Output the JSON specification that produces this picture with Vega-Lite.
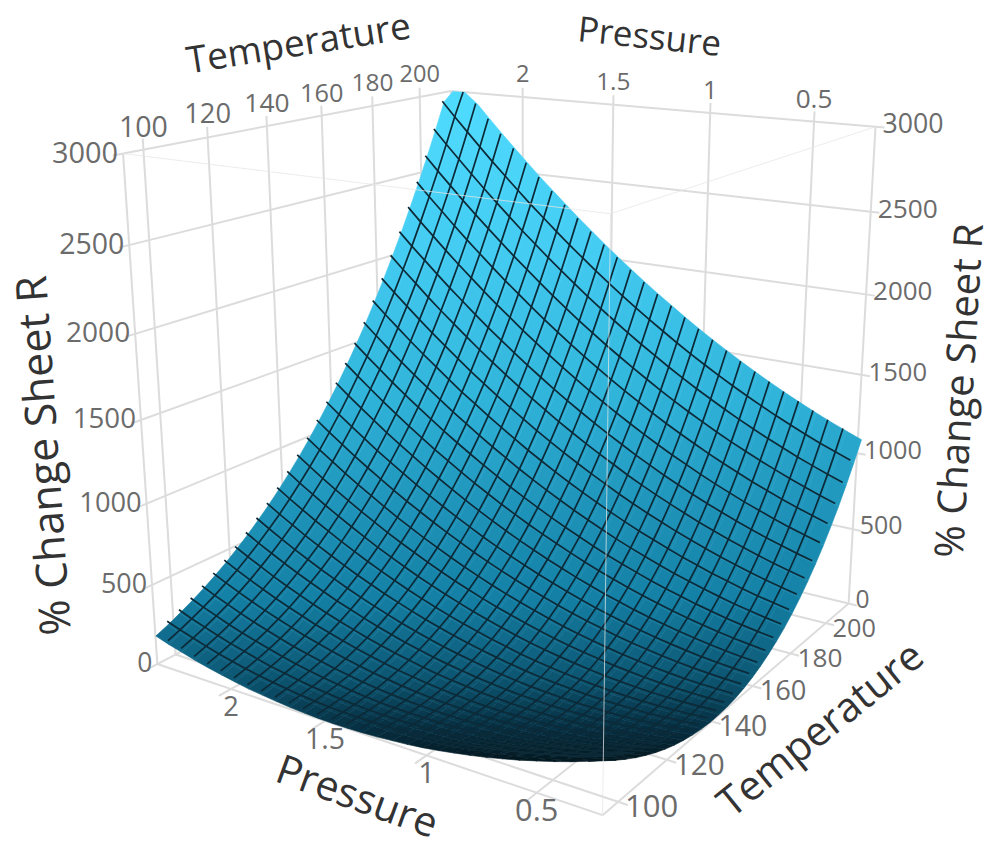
{"$schema":"https://vega.github.io/schema/vega-lite/v6.json","width":992,"height":846,"padding":0,"autosize":{"type":"fit","contains":"padding"},"background":"white","config":{"view":{"stroke":null},"text":{"font":"Open Sans"}},
"datasets":{
"grid":[
{"p":0.22,"t":94,"z":323},{"p":0.293,"t":94,"z":289},{"p":0.367,"t":94,"z":256},{"p":0.44,"t":94,"z":226},{"p":0.513,"t":94,"z":199},{"p":0.587,"t":94,"z":172},{"p":0.66,"t":94,"z":149},{"p":0.733,"t":94,"z":127},{"p":0.807,"t":94,"z":107},{"p":0.88,"t":94,"z":90},{"p":0.953,"t":94,"z":74},{"p":1.027,"t":94,"z":60},{"p":1.1,"t":94,"z":49},{"p":1.173,"t":94,"z":41},{"p":1.247,"t":94,"z":33},{"p":1.32,"t":94,"z":28},{"p":1.393,"t":94,"z":25},{"p":1.467,"t":94,"z":24},{"p":1.54,"t":94,"z":25},{"p":1.613,"t":94,"z":29},{"p":1.687,"t":94,"z":34},{"p":1.76,"t":94,"z":42},{"p":1.833,"t":94,"z":52},{"p":1.907,"t":94,"z":62},{"p":1.98,"t":94,"z":77},{"p":2.053,"t":94,"z":93},{"p":2.127,"t":94,"z":110},{"p":2.2,"t":94,"z":130},{"p":2.273,"t":94,"z":153},{"p":2.347,"t":94,"z":176},{"p":2.42,"t":94,"z":203},
{"p":0.22,"t":98,"z":279},{"p":0.293,"t":98,"z":247},{"p":0.367,"t":98,"z":217},{"p":0.44,"t":98,"z":190},{"p":0.513,"t":98,"z":165},{"p":0.587,"t":98,"z":141},{"p":0.66,"t":98,"z":120},{"p":0.733,"t":98,"z":100},{"p":0.807,"t":98,"z":83},{"p":0.88,"t":98,"z":69},{"p":0.953,"t":98,"z":55},{"p":1.027,"t":98,"z":44},{"p":1.1,"t":98,"z":35},{"p":1.173,"t":98,"z":29},{"p":1.247,"t":98,"z":24},{"p":1.32,"t":98,"z":22},{"p":1.393,"t":98,"z":21},{"p":1.467,"t":98,"z":23},{"p":1.54,"t":98,"z":26},{"p":1.613,"t":98,"z":32},{"p":1.687,"t":98,"z":40},{"p":1.76,"t":98,"z":51},{"p":1.833,"t":98,"z":63},{"p":1.907,"t":98,"z":76},{"p":1.98,"t":98,"z":93},{"p":2.053,"t":98,"z":111},{"p":2.127,"t":98,"z":131},{"p":2.2,"t":98,"z":154},{"p":2.273,"t":98,"z":179},{"p":2.347,"t":98,"z":205},{"p":2.42,"t":98,"z":234},
{"p":0.22,"t":102,"z":239},{"p":0.293,"t":102,"z":210},{"p":0.367,"t":102,"z":182},{"p":0.44,"t":102,"z":157},{"p":0.513,"t":102,"z":135},{"p":0.587,"t":102,"z":113},{"p":0.66,"t":102,"z":95},{"p":0.733,"t":102,"z":78},{"p":0.807,"t":102,"z":63},{"p":0.88,"t":102,"z":51},{"p":0.953,"t":102,"z":40},{"p":1.027,"t":102,"z":31},{"p":1.1,"t":102,"z":25},{"p":1.173,"t":102,"z":22},{"p":1.247,"t":102,"z":19},{"p":1.32,"t":102,"z":19},{"p":1.393,"t":102,"z":21},{"p":1.467,"t":102,"z":25},{"p":1.54,"t":102,"z":31},{"p":1.613,"t":102,"z":40},{"p":1.687,"t":102,"z":50},{"p":1.76,"t":102,"z":63},{"p":1.833,"t":102,"z":78},{"p":1.907,"t":102,"z":93},{"p":1.98,"t":102,"z":113},{"p":2.053,"t":102,"z":134},{"p":2.127,"t":102,"z":156},{"p":2.2,"t":102,"z":181},{"p":2.273,"t":102,"z":209},{"p":2.347,"t":102,"z":237},{"p":2.42,"t":102,"z":269},
{"p":0.22,"t":106,"z":201},{"p":0.293,"t":106,"z":174},{"p":0.367,"t":106,"z":149},{"p":0.44,"t":106,"z":127},{"p":0.513,"t":106,"z":107},{"p":0.587,"t":106,"z":88},{"p":0.66,"t":106,"z":72},{"p":0.733,"t":106,"z":57},{"p":0.807,"t":106,"z":46},{"p":0.88,"t":106,"z":36},{"p":0.953,"t":106,"z":27},{"p":1.027,"t":106,"z":21},{"p":1.1,"t":106,"z":17},{"p":1.173,"t":106,"z":17},{"p":1.247,"t":106,"z":17},{"p":1.32,"t":106,"z":19},{"p":1.393,"t":106,"z":23},{"p":1.467,"t":106,"z":30},{"p":1.54,"t":106,"z":39},{"p":1.613,"t":106,"z":50},{"p":1.687,"t":106,"z":63},{"p":1.76,"t":106,"z":78},{"p":1.833,"t":106,"z":95},{"p":1.907,"t":106,"z":114},{"p":1.98,"t":106,"z":136},{"p":2.053,"t":106,"z":159},{"p":2.127,"t":106,"z":184},{"p":2.2,"t":106,"z":211},{"p":2.273,"t":106,"z":242},{"p":2.347,"t":106,"z":273},{"p":2.42,"t":106,"z":307},
{"p":0.22,"t":110,"z":168},{"p":0.293,"t":110,"z":144},{"p":0.367,"t":110,"z":121},{"p":0.44,"t":110,"z":101},{"p":0.513,"t":110,"z":84},{"p":0.587,"t":110,"z":67},{"p":0.66,"t":110,"z":54},{"p":0.733,"t":110,"z":42},{"p":0.807,"t":110,"z":32},{"p":0.88,"t":110,"z":25},{"p":0.953,"t":110,"z":19},{"p":1.027,"t":110,"z":15},{"p":1.1,"t":110,"z":14},{"p":1.173,"t":110,"z":16},{"p":1.247,"t":110,"z":18},{"p":1.32,"t":110,"z":23},{"p":1.393,"t":110,"z":30},{"p":1.467,"t":110,"z":39},{"p":1.54,"t":110,"z":50},{"p":1.613,"t":110,"z":64},{"p":1.687,"t":110,"z":79},{"p":1.76,"t":110,"z":97},{"p":1.833,"t":110,"z":117},{"p":1.907,"t":110,"z":137},{"p":1.98,"t":110,"z":162},{"p":2.053,"t":110,"z":188},{"p":2.127,"t":110,"z":215},{"p":2.2,"t":110,"z":245},{"p":2.273,"t":110,"z":278},{"p":2.347,"t":110,"z":311},{"p":2.42,"t":110,"z":348},
{"p":0.22,"t":114,"z":137},{"p":0.293,"t":114,"z":115},{"p":0.367,"t":114,"z":95},{"p":0.44,"t":114,"z":78},{"p":0.513,"t":114,"z":63},{"p":0.587,"t":114,"z":49},{"p":0.66,"t":114,"z":38},{"p":0.733,"t":114,"z":29},{"p":0.807,"t":114,"z":22},{"p":0.88,"t":114,"z":17},{"p":0.953,"t":114,"z":13},{"p":1.027,"t":114,"z":13},{"p":1.1,"t":114,"z":14},{"p":1.173,"t":114,"z":18},{"p":1.247,"t":114,"z":23},{"p":1.32,"t":114,"z":30},{"p":1.393,"t":114,"z":40},{"p":1.467,"t":114,"z":52},{"p":1.54,"t":114,"z":65},{"p":1.613,"t":114,"z":81},{"p":1.687,"t":114,"z":100},{"p":1.76,"t":114,"z":120},{"p":1.833,"t":114,"z":142},{"p":1.907,"t":114,"z":165},{"p":1.98,"t":114,"z":193},{"p":2.053,"t":114,"z":221},{"p":2.127,"t":114,"z":251},{"p":2.2,"t":114,"z":283},{"p":2.273,"t":114,"z":318},{"p":2.347,"t":114,"z":355},{"p":2.42,"t":114,"z":394},
{"p":0.22,"t":118,"z":111},{"p":0.293,"t":118,"z":92},{"p":0.367,"t":118,"z":74},{"p":0.44,"t":118,"z":59},{"p":0.513,"t":118,"z":47},{"p":0.587,"t":118,"z":36},{"p":0.66,"t":118,"z":27},{"p":0.733,"t":118,"z":20},{"p":0.807,"t":118,"z":16},{"p":0.88,"t":118,"z":14},{"p":0.953,"t":118,"z":12},{"p":1.027,"t":118,"z":14},{"p":1.1,"t":118,"z":18},{"p":1.173,"t":118,"z":24},{"p":1.247,"t":118,"z":32},{"p":1.32,"t":118,"z":42},{"p":1.393,"t":118,"z":54},{"p":1.467,"t":118,"z":68},{"p":1.54,"t":118,"z":84},{"p":1.613,"t":118,"z":103},{"p":1.687,"t":118,"z":124},{"p":1.76,"t":118,"z":146},{"p":1.833,"t":118,"z":171},{"p":1.907,"t":118,"z":197},{"p":1.98,"t":118,"z":227},{"p":2.053,"t":118,"z":257},{"p":2.127,"t":118,"z":290},{"p":2.2,"t":118,"z":325},{"p":2.273,"t":118,"z":362},{"p":2.347,"t":118,"z":401},{"p":2.42,"t":118,"z":443},
{"p":0.22,"t":122,"z":89},{"p":0.293,"t":122,"z":72},{"p":0.367,"t":122,"z":58},{"p":0.44,"t":122,"z":45},{"p":0.513,"t":122,"z":35},{"p":0.587,"t":122,"z":26},{"p":0.66,"t":122,"z":21},{"p":0.733,"t":122,"z":16},{"p":0.807,"t":122,"z":14},{"p":0.88,"t":122,"z":14},{"p":0.953,"t":122,"z":16},{"p":1.027,"t":122,"z":20},{"p":1.1,"t":122,"z":26},{"p":1.173,"t":122,"z":36},{"p":1.247,"t":122,"z":46},{"p":1.32,"t":122,"z":58},{"p":1.393,"t":122,"z":72},{"p":1.467,"t":122,"z":90},{"p":1.54,"t":122,"z":108},{"p":1.613,"t":122,"z":129},{"p":1.687,"t":122,"z":152},{"p":1.76,"t":122,"z":178},{"p":1.833,"t":122,"z":205},{"p":1.907,"t":122,"z":233},{"p":1.98,"t":122,"z":265},{"p":2.053,"t":122,"z":299},{"p":2.127,"t":122,"z":334},{"p":2.2,"t":122,"z":371},{"p":2.273,"t":122,"z":412},{"p":2.347,"t":122,"z":453},{"p":2.42,"t":122,"z":497},
{"p":0.22,"t":126,"z":71},{"p":0.293,"t":126,"z":57},{"p":0.367,"t":126,"z":45},{"p":0.44,"t":126,"z":34},{"p":0.513,"t":126,"z":27},{"p":0.587,"t":126,"z":21},{"p":0.66,"t":126,"z":18},{"p":0.733,"t":126,"z":16},{"p":0.807,"t":126,"z":16},{"p":0.88,"t":126,"z":19},{"p":0.953,"t":126,"z":23},{"p":1.027,"t":126,"z":30},{"p":1.1,"t":126,"z":39},{"p":1.173,"t":126,"z":50},{"p":1.247,"t":126,"z":63},{"p":1.32,"t":126,"z":78},{"p":1.393,"t":126,"z":95},{"p":1.467,"t":126,"z":115},{"p":1.54,"t":126,"z":135},{"p":1.613,"t":126,"z":159},{"p":1.687,"t":126,"z":185},{"p":1.76,"t":126,"z":213},{"p":1.833,"t":126,"z":243},{"p":1.907,"t":126,"z":273},{"p":1.98,"t":126,"z":308},{"p":2.053,"t":126,"z":344},{"p":2.127,"t":126,"z":382},{"p":2.2,"t":126,"z":422},{"p":2.273,"t":126,"z":464},{"p":2.347,"t":126,"z":508},{"p":2.42,"t":126,"z":555},
{"p":0.22,"t":130,"z":57},{"p":0.293,"t":130,"z":45},{"p":0.367,"t":130,"z":36},{"p":0.44,"t":130,"z":28},{"p":0.513,"t":130,"z":23},{"p":0.587,"t":130,"z":20},{"p":0.66,"t":130,"z":19},{"p":0.733,"t":130,"z":19},{"p":0.807,"t":130,"z":23},{"p":0.88,"t":130,"z":28},{"p":0.953,"t":130,"z":34},{"p":1.027,"t":130,"z":44},{"p":1.1,"t":130,"z":55},{"p":1.173,"t":130,"z":69},{"p":1.247,"t":130,"z":85},{"p":1.32,"t":130,"z":102},{"p":1.393,"t":130,"z":121},{"p":1.467,"t":130,"z":144},{"p":1.54,"t":130,"z":167},{"p":1.613,"t":130,"z":193},{"p":1.687,"t":130,"z":222},{"p":1.76,"t":130,"z":252},{"p":1.833,"t":130,"z":284},{"p":1.907,"t":130,"z":318},{"p":1.98,"t":130,"z":355},{"p":2.053,"t":130,"z":393},{"p":2.127,"t":130,"z":434},{"p":2.2,"t":130,"z":476},{"p":2.273,"t":130,"z":521},{"p":2.347,"t":130,"z":568},{"p":2.42,"t":130,"z":617},
{"p":0.22,"t":134,"z":48},{"p":0.293,"t":134,"z":39},{"p":0.367,"t":134,"z":32},{"p":0.44,"t":134,"z":26},{"p":0.513,"t":134,"z":24},{"p":0.587,"t":134,"z":23},{"p":0.66,"t":134,"z":25},{"p":0.733,"t":134,"z":28},{"p":0.807,"t":134,"z":34},{"p":0.88,"t":134,"z":41},{"p":0.953,"t":134,"z":50},{"p":1.027,"t":134,"z":62},{"p":1.1,"t":134,"z":76},{"p":1.173,"t":134,"z":93},{"p":1.247,"t":134,"z":111},{"p":1.32,"t":134,"z":130},{"p":1.393,"t":134,"z":152},{"p":1.467,"t":134,"z":177},{"p":1.54,"t":134,"z":203},{"p":1.613,"t":134,"z":232},{"p":1.687,"t":134,"z":263},{"p":1.76,"t":134,"z":295},{"p":1.833,"t":134,"z":330},{"p":1.907,"t":134,"z":366},{"p":1.98,"t":134,"z":406},{"p":2.053,"t":134,"z":447},{"p":2.127,"t":134,"z":490},{"p":2.2,"t":134,"z":534},{"p":2.273,"t":134,"z":582},{"p":2.347,"t":134,"z":631},{"p":2.42,"t":134,"z":683},
{"p":0.22,"t":138,"z":43},{"p":0.293,"t":138,"z":36},{"p":0.367,"t":138,"z":32},{"p":0.44,"t":138,"z":29},{"p":0.513,"t":138,"z":29},{"p":0.587,"t":138,"z":31},{"p":0.66,"t":138,"z":35},{"p":0.733,"t":138,"z":41},{"p":0.807,"t":138,"z":49},{"p":0.88,"t":138,"z":59},{"p":0.953,"t":138,"z":71},{"p":1.027,"t":138,"z":85},{"p":1.1,"t":138,"z":101},{"p":1.173,"t":138,"z":121},{"p":1.247,"t":138,"z":141},{"p":1.32,"t":138,"z":164},{"p":1.393,"t":138,"z":188},{"p":1.467,"t":138,"z":215},{"p":1.54,"t":138,"z":244},{"p":1.613,"t":138,"z":275},{"p":1.687,"t":138,"z":308},{"p":1.76,"t":138,"z":344},{"p":1.833,"t":138,"z":381},{"p":1.907,"t":138,"z":420},{"p":1.98,"t":138,"z":462},{"p":2.053,"t":138,"z":505},{"p":2.127,"t":138,"z":551},{"p":2.2,"t":138,"z":598},{"p":2.273,"t":138,"z":648},{"p":2.347,"t":138,"z":700},{"p":2.42,"t":138,"z":754},
{"p":0.22,"t":142,"z":44},{"p":0.293,"t":142,"z":40},{"p":0.367,"t":142,"z":38},{"p":0.44,"t":142,"z":38},{"p":0.513,"t":142,"z":40},{"p":0.587,"t":142,"z":44},{"p":0.66,"t":142,"z":51},{"p":0.733,"t":142,"z":59},{"p":0.807,"t":142,"z":70},{"p":0.88,"t":142,"z":83},{"p":0.953,"t":142,"z":97},{"p":1.027,"t":142,"z":114},{"p":1.1,"t":142,"z":132},{"p":1.173,"t":142,"z":154},{"p":1.247,"t":142,"z":177},{"p":1.32,"t":142,"z":202},{"p":1.393,"t":142,"z":229},{"p":1.467,"t":142,"z":259},{"p":1.54,"t":142,"z":290},{"p":1.613,"t":142,"z":324},{"p":1.687,"t":142,"z":359},{"p":1.76,"t":142,"z":397},{"p":1.833,"t":142,"z":437},{"p":1.907,"t":142,"z":478},{"p":1.98,"t":142,"z":523},{"p":2.053,"t":142,"z":569},{"p":2.127,"t":142,"z":617},{"p":2.2,"t":142,"z":666},{"p":2.273,"t":142,"z":719},{"p":2.347,"t":142,"z":773},{"p":2.42,"t":142,"z":830},
{"p":0.22,"t":146,"z":50},{"p":0.293,"t":146,"z":48},{"p":0.367,"t":146,"z":49},{"p":0.44,"t":146,"z":51},{"p":0.513,"t":146,"z":56},{"p":0.587,"t":146,"z":63},{"p":0.66,"t":146,"z":72},{"p":0.733,"t":146,"z":82},{"p":0.807,"t":146,"z":96},{"p":0.88,"t":146,"z":111},{"p":0.953,"t":146,"z":127},{"p":1.027,"t":146,"z":147},{"p":1.1,"t":146,"z":168},{"p":1.173,"t":146,"z":192},{"p":1.247,"t":146,"z":218},{"p":1.32,"t":146,"z":245},{"p":1.393,"t":146,"z":274},{"p":1.467,"t":146,"z":307},{"p":1.54,"t":146,"z":340},{"p":1.613,"t":146,"z":376},{"p":1.687,"t":146,"z":415},{"p":1.76,"t":146,"z":455},{"p":1.833,"t":146,"z":497},{"p":1.907,"t":146,"z":541},{"p":1.98,"t":146,"z":588},{"p":2.053,"t":146,"z":636},{"p":2.127,"t":146,"z":687},{"p":2.2,"t":146,"z":739},{"p":2.273,"t":146,"z":794},{"p":2.347,"t":146,"z":851},{"p":2.42,"t":146,"z":910},
{"p":0.22,"t":150,"z":60},{"p":0.293,"t":150,"z":61},{"p":0.367,"t":150,"z":64},{"p":0.44,"t":150,"z":68},{"p":0.513,"t":150,"z":76},{"p":0.587,"t":150,"z":85},{"p":0.66,"t":150,"z":97},{"p":0.733,"t":150,"z":110},{"p":0.807,"t":150,"z":126},{"p":0.88,"t":150,"z":143},{"p":0.953,"t":150,"z":162},{"p":1.027,"t":150,"z":184},{"p":1.1,"t":150,"z":208},{"p":1.173,"t":150,"z":235},{"p":1.247,"t":150,"z":263},{"p":1.32,"t":150,"z":292},{"p":1.393,"t":150,"z":324},{"p":1.467,"t":150,"z":359},{"p":1.54,"t":150,"z":395},{"p":1.613,"t":150,"z":434},{"p":1.687,"t":150,"z":475},{"p":1.76,"t":150,"z":517},{"p":1.833,"t":150,"z":562},{"p":1.907,"t":150,"z":608},{"p":1.98,"t":150,"z":658},{"p":2.053,"t":150,"z":709},{"p":2.127,"t":150,"z":762},{"p":2.2,"t":150,"z":816},{"p":2.273,"t":150,"z":874},{"p":2.347,"t":150,"z":933},{"p":2.42,"t":150,"z":995},
{"p":0.22,"t":154,"z":77},{"p":0.293,"t":154,"z":80},{"p":0.367,"t":154,"z":86},{"p":0.44,"t":154,"z":93},{"p":0.513,"t":154,"z":103},{"p":0.587,"t":154,"z":115},{"p":0.66,"t":154,"z":129},{"p":0.733,"t":154,"z":144},{"p":0.807,"t":154,"z":162},{"p":0.88,"t":154,"z":183},{"p":0.953,"t":154,"z":204},{"p":1.027,"t":154,"z":228},{"p":1.1,"t":154,"z":255},{"p":1.173,"t":154,"z":284},{"p":1.247,"t":154,"z":314},{"p":1.32,"t":154,"z":347},{"p":1.393,"t":154,"z":381},{"p":1.467,"t":154,"z":418},{"p":1.54,"t":154,"z":456},{"p":1.613,"t":154,"z":498},{"p":1.687,"t":154,"z":541},{"p":1.76,"t":154,"z":586},{"p":1.833,"t":154,"z":634},{"p":1.907,"t":154,"z":682},{"p":1.98,"t":154,"z":734},{"p":2.053,"t":154,"z":788},{"p":2.127,"t":154,"z":843},{"p":2.2,"t":154,"z":900},{"p":2.273,"t":154,"z":960},{"p":2.347,"t":154,"z":1022},{"p":2.42,"t":154,"z":1086},
{"p":0.22,"t":158,"z":99},{"p":0.293,"t":158,"z":105},{"p":0.367,"t":158,"z":112},{"p":0.44,"t":158,"z":122},{"p":0.513,"t":158,"z":135},{"p":0.587,"t":158,"z":149},{"p":0.66,"t":158,"z":165},{"p":0.733,"t":158,"z":183},{"p":0.807,"t":158,"z":204},{"p":0.88,"t":158,"z":227},{"p":0.953,"t":158,"z":250},{"p":1.027,"t":158,"z":277},{"p":1.1,"t":158,"z":306},{"p":1.173,"t":158,"z":337},{"p":1.247,"t":158,"z":370},{"p":1.32,"t":158,"z":405},{"p":1.393,"t":158,"z":442},{"p":1.467,"t":158,"z":481},{"p":1.54,"t":158,"z":522},{"p":1.613,"t":158,"z":566},{"p":1.687,"t":158,"z":612},{"p":1.76,"t":158,"z":659},{"p":1.833,"t":158,"z":709},{"p":1.907,"t":158,"z":760},{"p":1.98,"t":158,"z":815},{"p":2.053,"t":158,"z":870},{"p":2.127,"t":158,"z":928},{"p":2.2,"t":158,"z":988},{"p":2.273,"t":158,"z":1050},{"p":2.347,"t":158,"z":1114},{"p":2.42,"t":158,"z":1181},
{"p":0.22,"t":162,"z":127},{"p":0.293,"t":162,"z":135},{"p":0.367,"t":162,"z":145},{"p":0.44,"t":162,"z":158},{"p":0.513,"t":162,"z":173},{"p":0.587,"t":162,"z":189},{"p":0.66,"t":162,"z":208},{"p":0.733,"t":162,"z":228},{"p":0.807,"t":162,"z":251},{"p":0.88,"t":162,"z":277},{"p":0.953,"t":162,"z":303},{"p":1.027,"t":162,"z":332},{"p":1.1,"t":162,"z":363},{"p":1.173,"t":162,"z":397},{"p":1.247,"t":162,"z":432},{"p":1.32,"t":162,"z":470},{"p":1.393,"t":162,"z":509},{"p":1.467,"t":162,"z":551},{"p":1.54,"t":162,"z":594},{"p":1.613,"t":162,"z":640},{"p":1.687,"t":162,"z":688},{"p":1.76,"t":162,"z":739},{"p":1.833,"t":162,"z":791},{"p":1.907,"t":162,"z":844},{"p":1.98,"t":162,"z":901},{"p":2.053,"t":162,"z":959},{"p":2.127,"t":162,"z":1019},{"p":2.2,"t":162,"z":1082},{"p":2.273,"t":162,"z":1147},{"p":2.347,"t":162,"z":1213},{"p":2.42,"t":162,"z":1282},
{"p":0.22,"t":166,"z":161},{"p":0.293,"t":166,"z":172},{"p":0.367,"t":166,"z":184},{"p":0.44,"t":166,"z":199},{"p":0.513,"t":166,"z":216},{"p":0.587,"t":166,"z":235},{"p":0.66,"t":166,"z":256},{"p":0.733,"t":166,"z":279},{"p":0.807,"t":166,"z":305},{"p":0.88,"t":166,"z":332},{"p":0.953,"t":166,"z":361},{"p":1.027,"t":166,"z":392},{"p":1.1,"t":166,"z":426},{"p":1.173,"t":166,"z":462},{"p":1.247,"t":166,"z":500},{"p":1.32,"t":166,"z":540},{"p":1.393,"t":166,"z":581},{"p":1.467,"t":166,"z":626},{"p":1.54,"t":166,"z":671},{"p":1.613,"t":166,"z":720},{"p":1.687,"t":166,"z":770},{"p":1.76,"t":166,"z":823},{"p":1.833,"t":166,"z":878},{"p":1.907,"t":166,"z":933},{"p":1.98,"t":166,"z":993},{"p":2.053,"t":166,"z":1053},{"p":2.127,"t":166,"z":1116},{"p":2.2,"t":166,"z":1180},{"p":2.273,"t":166,"z":1248},{"p":2.347,"t":166,"z":1317},{"p":2.42,"t":166,"z":1388},
{"p":0.22,"t":170,"z":201},{"p":0.293,"t":170,"z":214},{"p":0.367,"t":170,"z":229},{"p":0.44,"t":170,"z":246},{"p":0.513,"t":170,"z":266},{"p":0.587,"t":170,"z":287},{"p":0.66,"t":170,"z":311},{"p":0.733,"t":170,"z":336},{"p":0.807,"t":170,"z":363},{"p":0.88,"t":170,"z":393},{"p":0.953,"t":170,"z":424},{"p":1.027,"t":170,"z":458},{"p":1.1,"t":170,"z":494},{"p":1.173,"t":170,"z":533},{"p":1.247,"t":170,"z":573},{"p":1.32,"t":170,"z":615},{"p":1.393,"t":170,"z":659},{"p":1.467,"t":170,"z":706},{"p":1.54,"t":170,"z":754},{"p":1.613,"t":170,"z":805},{"p":1.687,"t":170,"z":858},{"p":1.76,"t":170,"z":913},{"p":1.833,"t":170,"z":969},{"p":1.907,"t":170,"z":1027},{"p":1.98,"t":170,"z":1089},{"p":2.053,"t":170,"z":1152},{"p":2.127,"t":170,"z":1217},{"p":2.2,"t":170,"z":1284},{"p":2.273,"t":170,"z":1354},{"p":2.347,"t":170,"z":1425},{"p":2.42,"t":170,"z":1499},
{"p":0.22,"t":174,"z":247},{"p":0.293,"t":174,"z":262},{"p":0.367,"t":174,"z":280},{"p":0.44,"t":174,"z":299},{"p":0.513,"t":174,"z":321},{"p":0.587,"t":174,"z":345},{"p":0.66,"t":174,"z":371},{"p":0.733,"t":174,"z":398},{"p":0.807,"t":174,"z":428},{"p":0.88,"t":174,"z":461},{"p":0.953,"t":174,"z":494},{"p":1.027,"t":174,"z":530},{"p":1.1,"t":174,"z":569},{"p":1.173,"t":174,"z":610},{"p":1.247,"t":174,"z":652},{"p":1.32,"t":174,"z":697},{"p":1.393,"t":174,"z":743},{"p":1.467,"t":174,"z":792},{"p":1.54,"t":174,"z":842},{"p":1.613,"t":174,"z":896},{"p":1.687,"t":174,"z":951},{"p":1.76,"t":174,"z":1008},{"p":1.833,"t":174,"z":1068},{"p":1.907,"t":174,"z":1128},{"p":1.98,"t":174,"z":1192},{"p":2.053,"t":174,"z":1258},{"p":2.127,"t":174,"z":1325},{"p":2.2,"t":174,"z":1394},{"p":2.273,"t":174,"z":1466},{"p":2.347,"t":174,"z":1540},{"p":2.42,"t":174,"z":1616},
{"p":0.22,"t":178,"z":300},{"p":0.293,"t":178,"z":318},{"p":0.367,"t":178,"z":337},{"p":0.44,"t":178,"z":359},{"p":0.513,"t":178,"z":384},{"p":0.587,"t":178,"z":409},{"p":0.66,"t":178,"z":438},{"p":0.733,"t":178,"z":467},{"p":0.807,"t":178,"z":500},{"p":0.88,"t":178,"z":535},{"p":0.953,"t":178,"z":570},{"p":1.027,"t":178,"z":609},{"p":1.1,"t":178,"z":650},{"p":1.173,"t":178,"z":693},{"p":1.247,"t":178,"z":738},{"p":1.32,"t":178,"z":784},{"p":1.393,"t":178,"z":833},{"p":1.467,"t":178,"z":885},{"p":1.54,"t":178,"z":937},{"p":1.613,"t":178,"z":993},{"p":1.687,"t":178,"z":1051},{"p":1.76,"t":178,"z":1110},{"p":1.833,"t":178,"z":1172},{"p":1.907,"t":178,"z":1234},{"p":1.98,"t":178,"z":1301},{"p":2.053,"t":178,"z":1369},{"p":2.127,"t":178,"z":1438},{"p":2.2,"t":178,"z":1510},{"p":2.273,"t":178,"z":1585},{"p":2.347,"t":178,"z":1660},{"p":2.42,"t":178,"z":1739},
{"p":0.22,"t":182,"z":360},{"p":0.293,"t":182,"z":380},{"p":0.367,"t":182,"z":402},{"p":0.44,"t":182,"z":426},{"p":0.513,"t":182,"z":453},{"p":0.587,"t":182,"z":481},{"p":0.66,"t":182,"z":512},{"p":0.733,"t":182,"z":544},{"p":0.807,"t":182,"z":578},{"p":0.88,"t":182,"z":615},{"p":0.953,"t":182,"z":653},{"p":1.027,"t":182,"z":694},{"p":1.1,"t":182,"z":737},{"p":1.173,"t":182,"z":783},{"p":1.247,"t":182,"z":830},{"p":1.32,"t":182,"z":879},{"p":1.393,"t":182,"z":930},{"p":1.467,"t":182,"z":984},{"p":1.54,"t":182,"z":1039},{"p":1.613,"t":182,"z":1097},{"p":1.687,"t":182,"z":1157},{"p":1.76,"t":182,"z":1219},{"p":1.833,"t":182,"z":1282},{"p":1.907,"t":182,"z":1347},{"p":1.98,"t":182,"z":1416},{"p":2.053,"t":182,"z":1486},{"p":2.127,"t":182,"z":1558},{"p":2.2,"t":182,"z":1632},{"p":2.273,"t":182,"z":1709},{"p":2.347,"t":182,"z":1787},{"p":2.42,"t":182,"z":1868},
{"p":0.22,"t":186,"z":427},{"p":0.293,"t":186,"z":449},{"p":0.367,"t":186,"z":473},{"p":0.44,"t":186,"z":500},{"p":0.513,"t":186,"z":529},{"p":0.587,"t":186,"z":559},{"p":0.66,"t":186,"z":592},{"p":0.733,"t":186,"z":626},{"p":0.807,"t":186,"z":664},{"p":0.88,"t":186,"z":703},{"p":0.953,"t":186,"z":743},{"p":1.027,"t":186,"z":786},{"p":1.1,"t":186,"z":831},{"p":1.173,"t":186,"z":880},{"p":1.247,"t":186,"z":929},{"p":1.32,"t":186,"z":980},{"p":1.393,"t":186,"z":1033},{"p":1.467,"t":186,"z":1089},{"p":1.54,"t":186,"z":1147},{"p":1.613,"t":186,"z":1207},{"p":1.687,"t":186,"z":1269},{"p":1.76,"t":186,"z":1333},{"p":1.833,"t":186,"z":1399},{"p":1.907,"t":186,"z":1467},{"p":1.98,"t":186,"z":1538},{"p":2.053,"t":186,"z":1610},{"p":2.127,"t":186,"z":1684},{"p":2.2,"t":186,"z":1760},{"p":2.273,"t":186,"z":1840},{"p":2.347,"t":186,"z":1920},{"p":2.42,"t":186,"z":2003},
{"p":0.22,"t":190,"z":501},{"p":0.293,"t":190,"z":525},{"p":0.367,"t":190,"z":552},{"p":0.44,"t":190,"z":580},{"p":0.513,"t":190,"z":612},{"p":0.587,"t":190,"z":644},{"p":0.66,"t":190,"z":680},{"p":0.733,"t":190,"z":716},{"p":0.807,"t":190,"z":755},{"p":0.88,"t":190,"z":797},{"p":0.953,"t":190,"z":839},{"p":1.027,"t":190,"z":885},{"p":1.1,"t":190,"z":932},{"p":1.173,"t":190,"z":983},{"p":1.247,"t":190,"z":1034},{"p":1.32,"t":190,"z":1087},{"p":1.393,"t":190,"z":1143},{"p":1.467,"t":190,"z":1201},{"p":1.54,"t":190,"z":1261},{"p":1.613,"t":190,"z":1323},{"p":1.687,"t":190,"z":1388},{"p":1.76,"t":190,"z":1454},{"p":1.833,"t":190,"z":1522},{"p":1.907,"t":190,"z":1592},{"p":1.98,"t":190,"z":1665},{"p":2.053,"t":190,"z":1740},{"p":2.127,"t":190,"z":1816},{"p":2.2,"t":190,"z":1895},{"p":2.273,"t":190,"z":1976},{"p":2.347,"t":190,"z":2058},{"p":2.42,"t":190,"z":2144},
{"p":0.22,"t":194,"z":582},{"p":0.293,"t":194,"z":609},{"p":0.367,"t":194,"z":637},{"p":0.44,"t":194,"z":668},{"p":0.513,"t":194,"z":702},{"p":0.587,"t":194,"z":736},{"p":0.66,"t":194,"z":774},{"p":0.733,"t":194,"z":812},{"p":0.807,"t":194,"z":854},{"p":0.88,"t":194,"z":898},{"p":0.953,"t":194,"z":942},{"p":1.027,"t":194,"z":990},{"p":1.1,"t":194,"z":1040},{"p":1.173,"t":194,"z":1092},{"p":1.247,"t":194,"z":1146},{"p":1.32,"t":194,"z":1201},{"p":1.393,"t":194,"z":1259},{"p":1.467,"t":194,"z":1320},{"p":1.54,"t":194,"z":1381},{"p":1.613,"t":194,"z":1446},{"p":1.687,"t":194,"z":1513},{"p":1.76,"t":194,"z":1581},{"p":1.833,"t":194,"z":1652},{"p":1.907,"t":194,"z":1723},{"p":1.98,"t":194,"z":1799},{"p":2.053,"t":194,"z":1876},{"p":2.127,"t":194,"z":1954},{"p":2.2,"t":194,"z":2035},{"p":2.273,"t":194,"z":2119},{"p":2.347,"t":194,"z":2203},{"p":2.42,"t":194,"z":2291},
{"p":0.22,"t":198,"z":671},{"p":0.293,"t":198,"z":700},{"p":0.367,"t":198,"z":731},{"p":0.44,"t":198,"z":763},{"p":0.513,"t":198,"z":799},{"p":0.587,"t":198,"z":836},{"p":0.66,"t":198,"z":876},{"p":0.733,"t":198,"z":916},{"p":0.807,"t":198,"z":960},{"p":0.88,"t":198,"z":1006},{"p":0.953,"t":198,"z":1053},{"p":1.027,"t":198,"z":1102},{"p":1.1,"t":198,"z":1154},{"p":1.173,"t":198,"z":1209},{"p":1.247,"t":198,"z":1265},{"p":1.32,"t":198,"z":1323},{"p":1.393,"t":198,"z":1382},{"p":1.467,"t":198,"z":1445},{"p":1.54,"t":198,"z":1509},{"p":1.613,"t":198,"z":1576},{"p":1.687,"t":198,"z":1644},{"p":1.76,"t":198,"z":1715},{"p":1.833,"t":198,"z":1788},{"p":1.907,"t":198,"z":1862},{"p":1.98,"t":198,"z":1939},{"p":2.053,"t":198,"z":2018},{"p":2.127,"t":198,"z":2099},{"p":2.2,"t":198,"z":2182},{"p":2.273,"t":198,"z":2268},{"p":2.347,"t":198,"z":2354},{"p":2.42,"t":198,"z":2444},
{"p":0.22,"t":202,"z":767},{"p":0.293,"t":202,"z":798},{"p":0.367,"t":202,"z":831},{"p":0.44,"t":202,"z":866},{"p":0.513,"t":202,"z":904},{"p":0.587,"t":202,"z":943},{"p":0.66,"t":202,"z":984},{"p":0.733,"t":202,"z":1027},{"p":0.807,"t":202,"z":1073},{"p":0.88,"t":202,"z":1121},{"p":0.953,"t":202,"z":1170},{"p":1.027,"t":202,"z":1222},{"p":1.1,"t":202,"z":1276},{"p":1.173,"t":202,"z":1333},{"p":1.247,"t":202,"z":1391},{"p":1.32,"t":202,"z":1451},{"p":1.393,"t":202,"z":1512},{"p":1.467,"t":202,"z":1577},{"p":1.54,"t":202,"z":1643},{"p":1.613,"t":202,"z":1712},{"p":1.687,"t":202,"z":1783},{"p":1.76,"t":202,"z":1856},{"p":1.833,"t":202,"z":1931},{"p":1.907,"t":202,"z":2007},{"p":1.98,"t":202,"z":2087},{"p":2.053,"t":202,"z":2168},{"p":2.127,"t":202,"z":2250},{"p":2.2,"t":202,"z":2335},{"p":2.273,"t":202,"z":2423},{"p":2.347,"t":202,"z":2512},{"p":2.42,"t":202,"z":2604},
{"p":0.22,"t":206,"z":871},{"p":0.293,"t":206,"z":904},{"p":0.367,"t":206,"z":939},{"p":0.44,"t":206,"z":976},{"p":0.513,"t":206,"z":1016},{"p":0.587,"t":206,"z":1057},{"p":0.66,"t":206,"z":1101},{"p":0.733,"t":206,"z":1146},{"p":0.807,"t":206,"z":1194},{"p":0.88,"t":206,"z":1244},{"p":0.953,"t":206,"z":1295},{"p":1.027,"t":206,"z":1349},{"p":1.1,"t":206,"z":1405},{"p":1.173,"t":206,"z":1464},{"p":1.247,"t":206,"z":1524},{"p":1.32,"t":206,"z":1586},{"p":1.393,"t":206,"z":1650},{"p":1.467,"t":206,"z":1716},{"p":1.54,"t":206,"z":1784},{"p":1.613,"t":206,"z":1855},{"p":1.687,"t":206,"z":1928},{"p":1.76,"t":206,"z":2003},{"p":1.833,"t":206,"z":2080},{"p":1.907,"t":206,"z":2158},{"p":1.98,"t":206,"z":2240},{"p":2.053,"t":206,"z":2323},{"p":2.127,"t":206,"z":2408},{"p":2.2,"t":206,"z":2495},{"p":2.273,"t":206,"z":2585},{"p":2.347,"t":206,"z":2676},{"p":2.42,"t":206,"z":2770},
{"p":0.22,"t":210,"z":983},{"p":0.293,"t":210,"z":1018},{"p":0.367,"t":210,"z":1055},{"p":0.44,"t":210,"z":1094},{"p":0.513,"t":210,"z":1136},{"p":0.587,"t":210,"z":1179},{"p":0.66,"t":210,"z":1225},{"p":0.733,"t":210,"z":1272},{"p":0.807,"t":210,"z":1322},{"p":0.88,"t":210,"z":1374},{"p":0.953,"t":210,"z":1427},{"p":1.027,"t":210,"z":1483},{"p":1.1,"t":210,"z":1541},{"p":1.173,"t":210,"z":1602},{"p":1.247,"t":210,"z":1664},{"p":1.32,"t":210,"z":1728},{"p":1.393,"t":210,"z":1794},{"p":1.467,"t":210,"z":1863},{"p":1.54,"t":210,"z":1933},{"p":1.613,"t":210,"z":2006},{"p":1.687,"t":210,"z":2081},{"p":1.76,"t":210,"z":2158},{"p":1.833,"t":210,"z":2237},{"p":1.907,"t":210,"z":2317},{"p":1.98,"t":210,"z":2401},{"p":2.053,"t":210,"z":2486},{"p":2.127,"t":210,"z":2573},{"p":2.2,"t":210,"z":2662},{"p":2.273,"t":210,"z":2754},{"p":2.347,"t":210,"z":2847},{"p":2.42,"t":210,"z":2943},
{"p":0.22,"t":214,"z":1103},{"p":0.293,"t":214,"z":1140},{"p":0.367,"t":214,"z":1179},{"p":0.44,"t":214,"z":1220},{"p":0.513,"t":214,"z":1264},{"p":0.587,"t":214,"z":1309},{"p":0.66,"t":214,"z":1357},{"p":0.733,"t":214,"z":1406},{"p":0.807,"t":214,"z":1458},{"p":0.88,"t":214,"z":1512},{"p":0.953,"t":214,"z":1567},{"p":1.027,"t":214,"z":1625},{"p":1.1,"t":214,"z":1685},{"p":1.173,"t":214,"z":1748},{"p":1.247,"t":214,"z":1812},{"p":1.32,"t":214,"z":1878},{"p":1.393,"t":214,"z":1946},{"p":1.467,"t":214,"z":2017},{"p":1.54,"t":214,"z":2089},{"p":1.613,"t":214,"z":2164},{"p":1.687,"t":214,"z":2241},{"p":1.76,"t":214,"z":2320},{"p":1.833,"t":214,"z":2401},{"p":1.907,"t":214,"z":2483},{"p":1.98,"t":214,"z":2569},{"p":2.053,"t":214,"z":2656},{"p":2.127,"t":214,"z":2745},{"p":2.2,"t":214,"z":2836},{"p":2.273,"t":214,"z":2930},{"p":2.347,"t":214,"z":3000},{"p":2.42,"t":214,"z":3000}],
"lines":[{"kind":"grid","p":2.42,"t":100,"z":0,"p2":2.42,"t2":100,"z2":3060},{"kind":"grid","p":2.42,"t":120,"z":0,"p2":2.42,"t2":120,"z2":3060},{"kind":"grid","p":2.42,"t":140,"z":0,"p2":2.42,"t2":140,"z2":3060},{"kind":"grid","p":2.42,"t":160,"z":0,"p2":2.42,"t2":160,"z2":3060},{"kind":"grid","p":2.42,"t":180,"z":0,"p2":2.42,"t2":180,"z2":3060},{"kind":"grid","p":2.42,"t":200,"z":0,"p2":2.42,"t2":200,"z2":3060},
{"kind":"grid","p":2,"t":214,"z":0,"p2":2,"t2":214,"z2":3060},{"kind":"grid","p":1.5,"t":214,"z":0,"p2":1.5,"t2":214,"z2":3060},{"kind":"grid","p":1,"t":214,"z":0,"p2":1,"t2":214,"z2":3060},{"kind":"grid","p":0.5,"t":214,"z":0,"p2":0.5,"t2":214,"z2":3060},
{"kind":"grid","p":2.42,"t":91,"z":0,"p2":2.42,"t2":214,"z2":0},{"kind":"grid","p":2.42,"t":91,"z":500,"p2":2.42,"t2":214,"z2":500},{"kind":"grid","p":2.42,"t":91,"z":1000,"p2":2.42,"t2":214,"z2":1000},{"kind":"grid","p":2.42,"t":91,"z":1500,"p2":2.42,"t2":214,"z2":1500},{"kind":"grid","p":2.42,"t":91,"z":2000,"p2":2.42,"t2":214,"z2":2000},{"kind":"grid","p":2.42,"t":91,"z":2500,"p2":2.42,"t2":214,"z2":2500},{"kind":"grid","p":2.42,"t":91,"z":3000,"p2":2.42,"t2":214,"z2":3000},
{"kind":"grid","p":2.42,"t":214,"z":0,"p2":0.18,"t2":214,"z2":0},{"kind":"grid","p":2.42,"t":214,"z":500,"p2":0.18,"t2":214,"z2":500},{"kind":"grid","p":2.42,"t":214,"z":1000,"p2":0.18,"t2":214,"z2":1000},{"kind":"grid","p":2.42,"t":214,"z":1500,"p2":0.18,"t2":214,"z2":1500},{"kind":"grid","p":2.42,"t":214,"z":2000,"p2":0.18,"t2":214,"z2":2000},{"kind":"grid","p":2.42,"t":214,"z":2500,"p2":0.18,"t2":214,"z2":2500},{"kind":"grid","p":2.42,"t":214,"z":3000,"p2":0.18,"t2":214,"z2":3000},
{"kind":"grid","p":0.18,"t":100,"z":0,"p2":2.42,"t2":100,"z2":0},{"kind":"grid","p":0.18,"t":120,"z":0,"p2":2.42,"t2":120,"z2":0},{"kind":"grid","p":0.18,"t":140,"z":0,"p2":2.42,"t2":140,"z2":0},{"kind":"grid","p":0.18,"t":160,"z":0,"p2":2.42,"t2":160,"z2":0},{"kind":"grid","p":0.18,"t":180,"z":0,"p2":2.42,"t2":180,"z2":0},{"kind":"grid","p":0.18,"t":200,"z":0,"p2":2.42,"t2":200,"z2":0},
{"kind":"grid","p":2,"t":90,"z":0,"p2":2,"t2":214,"z2":0},{"kind":"grid","p":1.5,"t":90,"z":0,"p2":1.5,"t2":214,"z2":0},{"kind":"grid","p":1,"t":90,"z":0,"p2":1,"t2":214,"z2":0},{"kind":"grid","p":0.5,"t":90,"z":0,"p2":0.5,"t2":214,"z2":0},
{"kind":"grid","p":2.42,"t":94,"z":0,"p2":2.42,"t2":94,"z2":3000},{"kind":"grid","p":0.22,"t":214,"z":0,"p2":0.22,"t2":214,"z2":3000},{"kind":"grid","p":2.42,"t":214,"z":0,"p2":2.42,"t2":214,"z2":3000},
{"kind":"grid","p":0.22,"t":94,"z":0,"p2":2.42,"t2":94,"z2":0},{"kind":"grid","p":0.22,"t":94,"z":0,"p2":0.22,"t2":214,"z2":0},
{"kind":"thin","p":2.42,"t":94,"z":3000,"p2":0.22,"t2":94,"z2":3000},{"kind":"thin","p":0.22,"t":94,"z":3000,"p2":0.22,"t2":214,"z2":3000},{"kind":"thin","p":0.22,"t":94,"z":0,"p2":0.22,"t2":94,"z2":3000}],
"labels":[{"axis":"zL","label":"0","p":2.42,"t":94,"z":0},{"axis":"zL","label":"500","p":2.42,"t":94,"z":500},{"axis":"zL","label":"1000","p":2.42,"t":94,"z":1000},{"axis":"zL","label":"1500","p":2.42,"t":94,"z":1500},{"axis":"zL","label":"2000","p":2.42,"t":94,"z":2000},{"axis":"zL","label":"2500","p":2.42,"t":94,"z":2500},{"axis":"zL","label":"3000","p":2.42,"t":94,"z":3000},
{"axis":"zR","label":"0","p":0.22,"t":214,"z":0},{"axis":"zR","label":"500","p":0.22,"t":214,"z":500},{"axis":"zR","label":"1000","p":0.22,"t":214,"z":1000},{"axis":"zR","label":"1500","p":0.22,"t":214,"z":1500},{"axis":"zR","label":"2000","p":0.22,"t":214,"z":2000},{"axis":"zR","label":"2500","p":0.22,"t":214,"z":2500},{"axis":"zR","label":"3000","p":0.22,"t":214,"z":3000},
{"axis":"top","label":"100","p":2.42,"t":100,"z":3000},{"axis":"top","label":"120","p":2.42,"t":120,"z":3000},{"axis":"top","label":"140","p":2.42,"t":140,"z":3000},{"axis":"top","label":"160","p":2.42,"t":160,"z":3000},{"axis":"top","label":"180","p":2.42,"t":180,"z":3000},{"axis":"top","label":"200","p":2.42,"t":200,"z":3000},
{"axis":"top","label":"2","p":2,"t":214,"z":3000},{"axis":"top","label":"1.5","p":1.5,"t":214,"z":3000},{"axis":"top","label":"1","p":1,"t":214,"z":3000},{"axis":"top","label":"0.5","p":0.5,"t":214,"z":3000},
{"axis":"tB","label":"100","p":0.22,"t":100,"z":0},{"axis":"tB","label":"120","p":0.22,"t":120,"z":0},{"axis":"tB","label":"140","p":0.22,"t":140,"z":0},{"axis":"tB","label":"160","p":0.22,"t":160,"z":0},{"axis":"tB","label":"180","p":0.22,"t":180,"z":0},{"axis":"tB","label":"200","p":0.22,"t":200,"z":0},
{"axis":"pB","label":"2","p":2,"t":94,"z":0},{"axis":"pB","label":"1.5","p":1.5,"t":94,"z":0},{"axis":"pB","label":"1","p":1,"t":94,"z":0},{"axis":"pB","label":"0.5","p":0.5,"t":94,"z":0}],
"titles":[{"id":"a","label":"Temperature","p":2.42,"t":152.5,"z":3444},{"id":"b","label":"Pressure","p":1.317,"t":214,"z":3432},{"id":"c","label":"% Change Sheet R","p":3.016,"t":94,"z":1133},{"id":"d","label":"% Change Sheet R","p":0.22,"t":287,"z":923},{"id":"e","label":"Pressure","p":1.026,"t":72.4,"z":0},{"id":"f","label":"Temperature","p":-0.174,"t":149.2,"z":0}]
},
"layer":[
{"data":{"name":"lines"},"transform":[{"filter":"datum.kind=='grid'"},
{"calculate":"(datum.p-0.22)/2.2","as":"u"},{"calculate":"(datum.t-94)/120","as":"v"},{"calculate":"datum.z/3000","as":"w"},{"calculate":"1+0.19*datum.u+0.28*datum.v-0.1*datum.w","as":"d"},{"calculate":"(605-417*datum.u+485.6*datum.v-53.3*datum.w)/datum.d","as":"sx"},{"calculate":"(820-25.1*datum.u-43*datum.v-626.5*datum.w)/datum.d","as":"sy"},
{"calculate":"(datum.p2-0.22)/2.2","as":"u2"},{"calculate":"(datum.t2-94)/120","as":"v2"},{"calculate":"datum.z2/3000","as":"w2"},{"calculate":"1+0.19*datum.u2+0.28*datum.v2-0.1*datum.w2","as":"d2"},{"calculate":"(605-417*datum.u2+485.6*datum.v2-53.3*datum.w2)/datum.d2","as":"ex"},{"calculate":"(820-25.1*datum.u2-43*datum.v2-626.5*datum.w2)/datum.d2","as":"ey"}],
"mark":{"type":"rule","color":"#dcdcdc","strokeWidth":2},
"encoding":{"x":{"field":"sx","type":"quantitative","scale":{"domain":[0,992],"nice":false},"axis":null},"y":{"field":"sy","type":"quantitative","scale":{"domain":[846,0],"nice":false},"axis":null},"x2":{"field":"ex"},"y2":{"field":"ey"}}},
{"data":{"name":"grid"},"transform":[
{"calculate":"(datum.p-0.22)/2.2","as":"u"},{"calculate":"(datum.t-94)/120","as":"v"},{"calculate":"datum.z/3000","as":"w"},{"calculate":"1+0.19*datum.u+0.28*datum.v-0.1*datum.w","as":"d"},{"calculate":"(605-417*datum.u+485.6*datum.v-53.3*datum.w)/datum.d","as":"sx"},{"calculate":"(820-25.1*datum.u-43*datum.v-626.5*datum.w)/datum.d","as":"sy"}],
"layer":[
{"transform":[{"window":[{"op":"lead","field":"sx","as":"x01"},{"op":"lead","field":"sy","as":"y01"}],"groupby":["p"],"sort":[{"field":"t","order":"ascending"}]},
{"window":[{"op":"lead","field":"sx","as":"x10"},{"op":"lead","field":"sy","as":"y10"},{"op":"lead","field":"x01","as":"x11"},{"op":"lead","field":"y01","as":"y11"}],"groupby":["t"],"sort":[{"field":"p","order":"ascending"}]},
{"filter":"isValid(datum.x11)&&isValid(datum.x01)&&isValid(datum.x10)"},
{"calculate":"(datum.sy+datum.y01+datum.y10+datum.y11)/4","as":"cy"},
{"calculate":"{type:'Feature',properties:{},geometry:{type:'Polygon',coordinates:[[[datum.sx,datum.sy],[datum.x10,datum.y10],[datum.x11,datum.y11],[datum.x01,datum.y01],[datum.sx,datum.sy]]]}}","as":"geo"}],
"projection":{"type":"identity","scale":1,"translate":[0,0]},
"mark":{"type":"geoshape","strokeWidth":0.6},
"encoding":{"shape":{"field":"geo","type":"geojson"},
"fill":{"field":"cy","type":"quantitative","legend":null,"scale":{"domain":[90,250,400,500,600,680,730,760],"range":["#50dcff","#44ccf2","#30b4da","#2096bc","#1480a5","#0c5672","#062e40","#021820"]}},
"stroke":{"field":"cy","type":"quantitative","legend":null,"scale":{"domain":[90,250,400,500,600,680,730,760],"range":["#50dcff","#44ccf2","#30b4da","#2096bc","#1480a5","#0c5672","#062e40","#021820"]}}}},
{"transform":[{"filter":"datum.t>94&&datum.t<214"}],"mark":{"type":"line","color":"#0c2a38","strokeWidth":1.7},
"encoding":{"x":{"field":"sx","type":"quantitative"},"y":{"field":"sy","type":"quantitative"},"detail":{"field":"t"},"order":{"field":"p"}}},
{"transform":[{"filter":"datum.p>0.22&&datum.p<2.42"}],"mark":{"type":"line","color":"#0c2a38","strokeWidth":1.7},
"encoding":{"x":{"field":"sx","type":"quantitative"},"y":{"field":"sy","type":"quantitative"},"detail":{"field":"p"},"order":{"field":"t"}}}
]},
{"data":{"name":"lines"},"transform":[{"filter":"datum.kind=='thin'"},
{"calculate":"(datum.p-0.22)/2.2","as":"u"},{"calculate":"(datum.t-94)/120","as":"v"},{"calculate":"datum.z/3000","as":"w"},{"calculate":"1+0.19*datum.u+0.28*datum.v-0.1*datum.w","as":"d"},{"calculate":"(605-417*datum.u+485.6*datum.v-53.3*datum.w)/datum.d","as":"sx"},{"calculate":"(820-25.1*datum.u-43*datum.v-626.5*datum.w)/datum.d","as":"sy"},
{"calculate":"(datum.p2-0.22)/2.2","as":"u2"},{"calculate":"(datum.t2-94)/120","as":"v2"},{"calculate":"datum.z2/3000","as":"w2"},{"calculate":"1+0.19*datum.u2+0.28*datum.v2-0.1*datum.w2","as":"d2"},{"calculate":"(605-417*datum.u2+485.6*datum.v2-53.3*datum.w2)/datum.d2","as":"ex"},{"calculate":"(820-25.1*datum.u2-43*datum.v2-626.5*datum.w2)/datum.d2","as":"ey"}],
"mark":{"type":"rule","color":"#e6e6e6","strokeWidth":1,"opacity":0.75},
"encoding":{"x":{"field":"sx","type":"quantitative"},"y":{"field":"sy","type":"quantitative"},"x2":{"field":"ex"},"y2":{"field":"ey"}}},
{"data":{"name":"labels"},"transform":[
{"calculate":"(datum.p-0.22)/2.2","as":"u"},{"calculate":"(datum.t-94)/120","as":"v"},{"calculate":"datum.z/3000","as":"w"},{"calculate":"1+0.19*datum.u+0.28*datum.v-0.1*datum.w","as":"d"},{"calculate":"(605-417*datum.u+485.6*datum.v-53.3*datum.w)/datum.d","as":"sx"},{"calculate":"(820-25.1*datum.u-43*datum.v-626.5*datum.w)/datum.d","as":"sy"},{"calculate":"31.5/datum.d","as":"fs"}],
"encoding":{"x":{"field":"sx","type":"quantitative"},"y":{"field":"sy","type":"quantitative"},"text":{"field":"label"},"size":{"field":"fs","type":"quantitative","scale":null},"color":{"value":"#6b6b6b"}},
"layer":[
{"transform":[{"filter":"datum.axis=='zL'"}],"mark":{"type":"text","align":"right","baseline":"middle","dx":-5}},
{"transform":[{"filter":"datum.axis=='zR'"}],"mark":{"type":"text","align":"left","baseline":"middle","dx":7,"dy":-2}},
{"transform":[{"filter":"datum.axis=='top'"}],"mark":{"type":"text","align":"center","baseline":"middle","dy":-22}},
{"transform":[{"filter":"datum.axis=='tB'"}],"mark":{"type":"text","align":"left","baseline":"middle","dx":7,"dy":6}},
{"transform":[{"filter":"datum.axis=='pB'"}],"mark":{"type":"text","align":"center","baseline":"middle","dy":19}}
]},
{"data":{"name":"titles"},"transform":[
{"calculate":"(datum.p-0.22)/2.2","as":"u"},{"calculate":"(datum.t-94)/120","as":"v"},{"calculate":"datum.z/3000","as":"w"},{"calculate":"1+0.19*datum.u+0.28*datum.v-0.1*datum.w","as":"d"},{"calculate":"(605-417*datum.u+485.6*datum.v-53.3*datum.w)/datum.d","as":"sx"},{"calculate":"(820-25.1*datum.u-43*datum.v-626.5*datum.w)/datum.d","as":"sy"}],
"encoding":{"x":{"field":"sx","type":"quantitative"},"y":{"field":"sy","type":"quantitative"},"text":{"field":"label"},"color":{"value":"#333333"}},
"layer":[
{"transform":[{"filter":"datum.id=='a'"}],"mark":{"type":"text","align":"center","baseline":"middle","fontSize":37,"angle":351}},
{"transform":[{"filter":"datum.id=='b'"}],"mark":{"type":"text","align":"center","baseline":"middle","fontSize":35,"angle":6}},
{"transform":[{"filter":"datum.id=='c'"}],"mark":{"type":"text","align":"center","baseline":"middle","fontSize":43,"angle":266}},
{"transform":[{"filter":"datum.id=='d'"}],"mark":{"type":"text","align":"center","baseline":"middle","fontSize":40,"angle":273.5}},
{"transform":[{"filter":"datum.id=='e'"}],"mark":{"type":"text","align":"center","baseline":"middle","fontSize":41,"angle":20}},
{"transform":[{"filter":"datum.id=='f'"}],"mark":{"type":"text","align":"center","baseline":"middle","fontSize":41,"angle":321}}
]}
]}
